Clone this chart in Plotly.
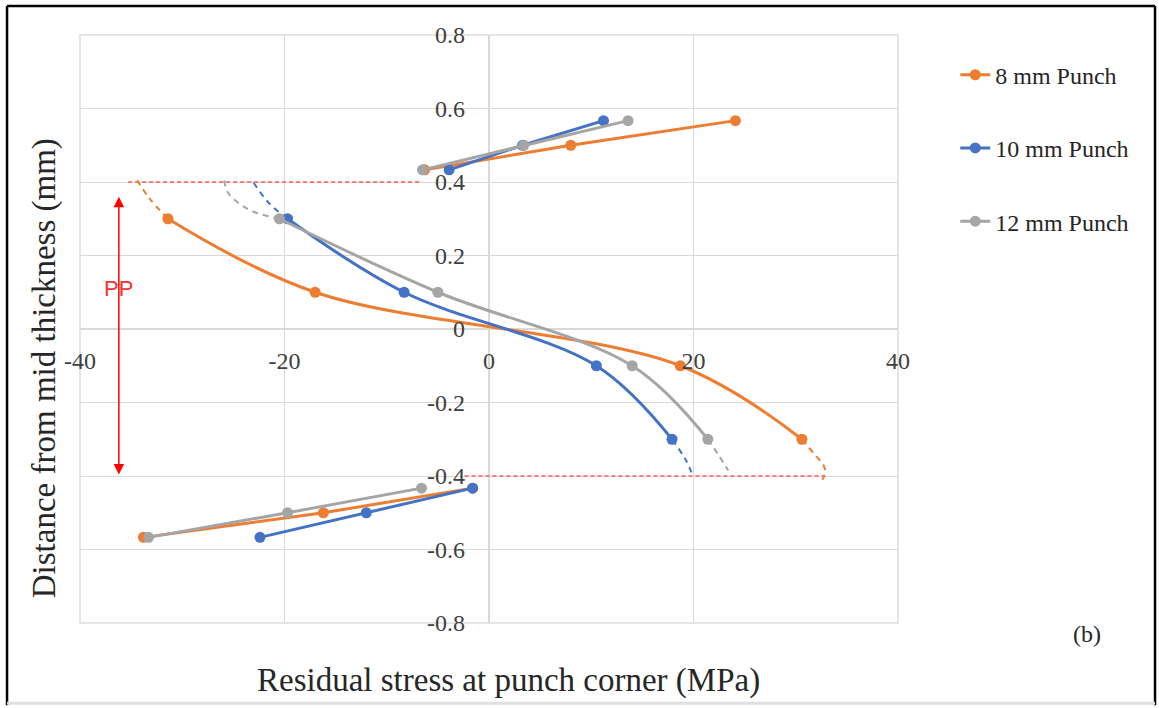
import plotly.graph_objects as go

# Axis ticks
x_ticks = [-40, -20, 0, 20, 40]
x_tick_labels = ["-40", "-20", "0", "20", "40"]
y_ticks = [0.8, 0.6, 0.4, 0.2, 0, -0.2, -0.4, -0.6, -0.8]
y_tick_labels = ["0.8", "0.6", "0.4", "0.2", "0", "-0.2", "-0.4", "-0.6", "-0.8"]

# Depth positions (mm from mid thickness) of the measured points
depth_top = [0.433, 0.5, 0.567]
depth_mid = [0.3, 0.1, -0.1, -0.3]
depth_bot = [-0.567, -0.5, -0.433]

# Residual stress (MPa) for each punch size
stress_8_top = [-6.3, 8.0, 24.1]
stress_8_mid = [-31.4, -17.0, 18.7, 30.6]
stress_8_bot = [-33.8, -16.2, -1.6]

stress_10_top = [-3.9, 3.3, 11.2]
stress_10_mid = [-19.7, -8.3, 10.5, 17.9]
stress_10_bot = [-22.4, -12.0, -1.6]

stress_12_top = [-6.5, 3.4, 13.6]
stress_12_mid = [-20.5, -5.0, 14.0, 21.4]
stress_12_bot = [-33.3, -19.7, -6.6]

# Extrapolated ends of the mid-thickness curves (dashed)
ext_8_top_x = [-31.4, -33.2, -34.4]
ext_8_top_y = [0.3, 0.355, 0.405]
ext_10_top_x = [-19.7, -21.6, -23.3]
ext_10_top_y = [0.3, 0.345, 0.41]
ext_12_top_x = [-20.5, -23.5, -25.5, -25.9]
ext_12_top_y = [0.3, 0.325, 0.37, 0.405]
ext_8_bot_x = [30.6, 31.8, 32.7, 32.9, 32.6]
ext_8_bot_y = [-0.3, -0.34, -0.37, -0.39, -0.41]
ext_10_bot_x = [17.9, 19.2, 19.8]
ext_10_bot_y = [-0.3, -0.354, -0.39]
ext_12_bot_x = [21.4, 22.4, 23.4]
ext_12_bot_y = [-0.3, -0.341, -0.385]

# Plastic penetration zone limits
pp_top_x = [-35.3, -6.6]
pp_top_y = [0.4, 0.4]
pp_bot_x = [-2.4, 32.8]
pp_bot_y = [-0.4, -0.4]
pp_arrow_x = -36.2
pp_arrow_y = [0.36, -0.40]

series = [
    ("8 mm Punch", "#ED7D31", stress_8_top, stress_8_mid, stress_8_bot,
     ext_8_top_x, ext_8_top_y, ext_8_bot_x, ext_8_bot_y),
    ("10 mm Punch", "#4472C4", stress_10_top, stress_10_mid, stress_10_bot,
     ext_10_top_x, ext_10_top_y, ext_10_bot_x, ext_10_bot_y),
    ("12 mm Punch", "#A5A5A5", stress_12_top, stress_12_mid, stress_12_bot,
     ext_12_top_x, ext_12_top_y, ext_12_bot_x, ext_12_bot_y),
]

SERIF = "Liberation Serif, Times New Roman, serif"
fig = go.Figure()

# Red dashed limits of the zone
for xs, ys in [(pp_top_x, pp_top_y), (pp_bot_x, pp_bot_y)]:
    fig.add_trace(go.Scatter(x=xs, y=ys, mode="lines", showlegend=False,
                             hoverinfo="skip",
                             line=dict(color="#FF5A5A", width=1.5, dash="4px,3px")))

for name, color, top, mid, bot, etx, ety, ebx, eby in series:
    for xs, ys in [(etx, ety), (ebx, eby)]:
        fig.add_trace(go.Scatter(x=xs, y=ys, mode="lines", showlegend=False,
                                 legendgroup=name, hoverinfo="skip",
                                 line=dict(color=color, width=2, dash="6px,5px",
                                           shape="spline")))

for name, color, top, mid, bot, etx, ety, ebx, eby in series:
    mk = dict(color=color, size=11)
    fig.add_trace(go.Scatter(x=mid, y=depth_mid, mode="lines+markers", name=name,
                             legendgroup=name, marker=mk,
                             line=dict(color=color, width=3, shape="spline")))
    fig.add_trace(go.Scatter(x=top, y=depth_top, mode="lines+markers", name=name,
                             legendgroup=name, showlegend=False, marker=mk,
                             line=dict(color=color, width=3)))
    fig.add_trace(go.Scatter(x=bot, y=depth_bot, mode="lines+markers", name=name,
                             legendgroup=name, showlegend=False, marker=mk,
                             line=dict(color=color, width=3)))

annotations = [
    # double-headed red arrow marking the zone
    dict(x=pp_arrow_x, y=pp_arrow_y[0], ax=pp_arrow_x, ay=pp_arrow_y[1],
         xref="x", yref="y", axref="x", ayref="y", text="", showarrow=True,
         arrowhead=2, startarrowhead=2, arrowside="end+start",
         arrowsize=1.4, startarrowsize=1.4, arrowwidth=1.5, arrowcolor="#FF0000"),
    dict(x=pp_arrow_x, y=0.11, xref="x", yref="y", text="PP", showarrow=False,
         font=dict(family="Liberation Sans, Arial, sans-serif", size=22, color="#FF3030")),
    dict(x=0.524, y=-0.097, xref="paper", yref="paper", text="Residual stress at punch corner (MPa)",
         showarrow=False, font=dict(family=SERIF, size=33, color="#262626"),
         xanchor="center", yanchor="middle"),
    dict(x=-0.043, y=0.433, xref="paper", yref="paper", text="Distance from mid thickness (mm)",
         showarrow=False, textangle=-90, font=dict(family=SERIF, size=33, color="#262626"),
         xanchor="center", yanchor="middle"),
    dict(x=1.231, y=-0.019, xref="paper", yref="paper", text="(b)", showarrow=False,
         font=dict(family=SERIF, size=24, color="#262626"), xanchor="center", yanchor="middle"),
]

shapes = [
    # plot area outline
    dict(type="rect", xref="paper", yref="paper", x0=0, y0=0, x1=1, y1=1,
         line=dict(color="#DDDDDD", width=1.5), layer="below"),
    # outer frame
    dict(type="line", xref="paper", yref="paper", x0=-0.0892, x1=-0.0892, y0=1.0493, y1=-0.14,
         line=dict(color="black", width=2.5)),
    dict(type="line", xref="paper", yref="paper", x0=-0.0892, x1=1.3142, y0=1.0493, y1=1.0493,
         line=dict(color="black", width=2.5)),
    dict(type="line", xref="paper", yref="paper", x0=1.3142, x1=1.3142, y0=1.0493, y1=-0.14,
         line=dict(color="black", width=2.5)),
    dict(type="line", xref="paper", yref="paper", x0=-0.0892, x1=1.3142, y0=-0.1365, y1=-0.1365,
         line=dict(color="#E0E0E0", width=3)),
]

fig.update_layout(
    width=1159, height=708,
    margin=dict(l=80, r=261, t=35, b=85),
    paper_bgcolor="white", plot_bgcolor="white",
    showlegend=True,
    legend=dict(x=1.07, y=0.97, xanchor="left", yanchor="top",
                font=dict(family=SERIF, size=24, color="#262626"),
                traceorder="grouped", tracegroupgap=39, itemwidth=30,
                bgcolor="rgba(0,0,0,0)"),
    xaxis=dict(range=[-40, 40], tickvals=x_ticks, ticktext=x_tick_labels,
               showgrid=True, gridcolor="#D9D9D9",
               gridwidth=1, zeroline=True, zerolinecolor="#D9D9D9", zerolinewidth=1.5,
               showline=False, anchor="free", position=0.5, ticks="",
               ticklabelstandoff=15,
               tickfont=dict(family=SERIF, size=24, color="#404040")),
    yaxis=dict(range=[-0.8, 0.8], tickvals=y_ticks, ticktext=y_tick_labels,
               showgrid=True, gridcolor="#D9D9D9",
               gridwidth=1, zeroline=True, zerolinecolor="#D9D9D9", zerolinewidth=1.5,
               showline=False, anchor="free", position=0.5, ticks="",
               ticklabelstandoff=24,
               tickfont=dict(family=SERIF, size=24, color="#404040")),
    annotations=annotations,
    shapes=shapes,
)

fig.write_html("out.html")
